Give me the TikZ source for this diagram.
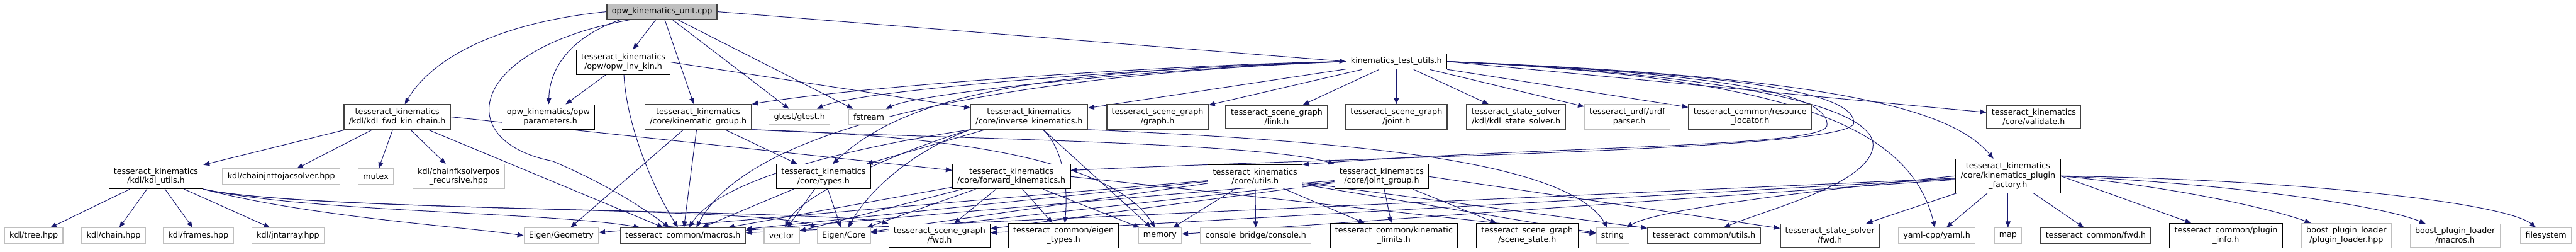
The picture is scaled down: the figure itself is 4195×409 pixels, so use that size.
\documentclass[tikz,border=0pt]{standalone}
\usepackage{fontspec}
\setmainfont{DejaVu Sans}
\usepackage{xcolor}
\usepackage{tikz}
\usetikzlibrary{arrows.meta,positioning,backgrounds}

\definecolor{edgeblue}{HTML}{191970}
\definecolor{extgray}{HTML}{BFBFBF}
\definecolor{bordergray}{HTML}{404040}

\begin{document}
\begin{tikzpicture}[
  x=1pt, y=-1pt,
  font=\fontsize{13}{15}\selectfont,
  every node/.style={align=center},
  arr/.style={-{Triangle[length=10pt,width=8pt]}, draw=edgeblue, line width=1pt},
  filebox/.style={rectangle, draw=black, line width=1pt, fill=white, inner xsep=8pt, inner ysep=6pt, minimum height=25pt},
  darkbox/.style={filebox, draw=bordergray, line width=1.5pt},
  extbox/.style={filebox, draw=extgray, line width=1.2pt},
  rootbox/.style={filebox, draw=bordergray, line width=1.5pt, fill=extgray}
]

  \useasboundingbox (0,0) rectangle (4195,409);

  % Top file and test helper
  \node[rootbox] (root) at (1078,19) {opw\_kinematics\_unit.cpp};
  \node[filebox] (optinv) at (1015,101) {tesseract\_kinematics\\/opw/opw\_inv\_kin.h};
  \node[filebox] (testutils) at (2274,100) {kinematics\_test\_utils.h};

  % Third row
  \node[darkbox] (kdlfwd) at (647,190) {tesseract\_kinematics\\/kdl/kdl\_fwd\_kin\_chain.h};
  \node[filebox] (opwparam) at (893,190) {opw\_kinematics/opw\\\_parameters.h};
  \node[darkbox] (kingroup) at (1137,190) {tesseract\_kinematics\\/core/kinematic\_group.h};
  \node[extbox] (gtest) at (1302,190) {gtest/gtest.h};
  \node[extbox] (fstream) at (1415,190) {fstream};
  \node[darkbox] (invkin) at (1676,190) {tesseract\_kinematics\\/core/inverse\_kinematics.h};
  \node[darkbox] (sggraph) at (1885,190) {tesseract\_scene\_graph\\/graph.h};
  \node[darkbox] (sglink) at (2079,190) {tesseract\_scene\_graph\\/link.h};
  \node[darkbox] (sgjoint) at (2274,190) {tesseract\_scene\_graph\\/joint.h};
  \node[darkbox] (kdlsolver) at (2469,190) {tesseract\_state\_solver\\/kdl/kdl\_state\_solver.h};
  \node[extbox] (urdf) at (2650,190) {tesseract\_urdf/urdf\\\_parser.h};
  \node[darkbox] (resloc) at (2850,190) {tesseract\_common/resource\\\_locator.h};
  \node[darkbox] (validate) at (3312,190) {tesseract\_kinematics\\/core/validate.h};

  % Fourth row
  \node[filebox] (kdlutils) at (254,287) {tesseract\_kinematics\\/kdl/kdl\_utils.h};
  \node[extbox] (chainjnt) at (458,287) {kdl/chainjnttojacsolver.hpp};
  \node[extbox] (mutex) at (612,287) {mutex};
  \node[extbox] (chainfk) at (747,287) {kdl/chainfksolverpos\\\_recursive.hpp};
  \node[filebox] (types) at (1341,287) {tesseract\_kinematics\\/core/types.h};
  \node[filebox] (fwdkin) at (1647,287) {tesseract\_kinematics\\/core/forward\_kinematics.h};
  \node[filebox] (coreutils) at (2044,287) {tesseract\_kinematics\\/core/utils.h};
  \node[filebox] (jointgroup) at (2250,287) {tesseract\_kinematics\\/core/joint\_group.h};
  \node[filebox] (factory) at (3270,286) {tesseract\_kinematics\\/core/kinematics\_plugin\\\_factory.h};

  % Bottom row
  \node[extbox] (tree) at (55,383) {kdl/tree.hpp};
  \node[extbox] (chain) at (185,383) {kdl/chain.hpp};
  \node[extbox] (frames) at (323,383) {kdl/frames.hpp};
  \node[extbox] (jntarray) at (469,383) {kdl/jntarray.hpp};
  \node[extbox] (eigengeom) at (914,383) {Eigen/Geometry};
  \node[darkbox] (macros) at (1112,383) {tesseract\_common/macros.h};
  \node[extbox] (vector) at (1273,383) {vector};
  \node[extbox] (eigencore) at (1374,383) {Eigen/Core};
  \node[filebox] (sgfwd) at (1530,383) {tesseract\_scene\_graph\\/fwd.h};
  \node[filebox] (eigentypes) at (1732,383) {tesseract\_common/eigen\\\_types.h};
  \node[extbox] (memory) at (1889,383) {memory};
  \node[extbox] (console) at (2045,383) {console\_bridge/console.h};
  \node[filebox] (kinlimits) at (2270,383) {tesseract\_common/kinematic\\\_limits.h};
  \node[filebox] (scenestate) at (2487,383) {tesseract\_scene\_graph\\/scene\_state.h};
  \node[extbox] (string) at (2626,383) {string};
  \node[darkbox] (commonutils) at (2775,383) {tesseract\_common/utils.h};
  \node[darkbox] (ssfwd) at (2980,383) {tesseract\_state\_solver\\/fwd.h};
  \node[extbox] (yaml) at (3154,383) {yaml-cpp/yaml.h};
  \node[extbox] (map) at (3270,383) {map};
  \node[darkbox] (commonfwd) at (3413,383) {tesseract\_common/fwd.h};
  \node[filebox] (plugininfo) at (3625,383) {tesseract\_common/plugin\\\_info.h};
  \node[extbox] (pluginloader) at (3821,383) {boost\_plugin\_loader\\/plugin\_loader.hpp};
  \node[extbox] (boostmacros) at (3998,383) {boost\_plugin\_loader\\/macros.h};
  \node[extbox] (filesystem) at (4146,383) {filesystem};

  \begin{scope}[on background layer]
  \fill[white] (0,0) rectangle (4195,409);

  % Includes of opw_kinematics_unit.cpp
  \draw[arr] (root.west) .. controls (800,38) and (700,100) .. (kdlfwd);
  \draw[arr] ([xshift=-52pt]root.south) .. controls (760,80) and (735,230) .. (900,262) .. controls (990,300) and (1050,340) .. ([xshift=-22pt]macros.north);
  \draw[arr] ([xshift=-68pt]root.south) .. controls (930,60) and (895,110) .. (opwparam);
  \draw[arr] (root) -- (optinv);
  \draw[arr] (root) -- (kingroup);
  \draw[arr] (root) -- (gtest);
  \draw[arr] (root) -- (fstream);
  \draw[arr] (root.east) -- (testutils.west);

  % opw_inv_kin.h
  \draw[arr] (optinv) -- (opwparam);
  \draw[arr] (optinv) .. controls (1020,200) and (1060,300) .. ([xshift=-8pt]macros.north);
  \draw[arr] (optinv.east) -- (invkin);

  % kdl_fwd_kin_chain.h
  \draw[arr] (kdlfwd) -- (kdlutils);
  \draw[arr] (kdlfwd) -- (chainjnt);
  \draw[arr] (kdlfwd) -- (mutex);
  \draw[arr] (kdlfwd) -- (chainfk);
  \draw[arr] (kdlfwd) -- (macros);
  \draw[arr] (kdlfwd.east) -- (fwdkin);

  % kdl_utils.h
  \draw[arr] (kdlutils) -- (tree);
  \draw[arr] (kdlutils) -- (chain);
  \draw[arr] (kdlutils) -- (frames);
  \draw[arr] (kdlutils) -- (jntarray);
  \draw[arr] (kdlutils.south east) .. controls (500,352) and (750,368) .. (eigengeom.west);
  \draw[arr] (kdlutils.south east) .. controls (500,345) and (900,345) .. ([xshift=-70pt]macros.north);
  \draw[arr] (kdlutils.south east) .. controls (500,345) and (1250,335) .. (eigencore.north west);
  \draw[arr] (kdlutils.south east) .. controls (500,345) and (1350,340) .. (sgfwd.north west);

  % kinematic_group.h
  \draw[arr] (kingroup) -- (eigengeom);
  \draw[arr] (kingroup) -- (macros);
  \draw[arr] (kingroup) -- (types);
  \draw[arr] (kingroup.south east) .. controls (1500,225) and (2050,230) .. (jointgroup.north west);
  \draw[arr] (kingroup.south east) .. controls (1450,218) and (1800,240) .. (memory);

  % inverse_kinematics.h
  \draw[arr] (invkin) -- (types);
  \draw[arr] (invkin.south west) .. controls (1500,240) and (1420,300) .. (eigencore);
  \draw[arr] (invkin.south west) .. controls (1450,230) and (1180,280) .. ([xshift=10pt]macros.north);
  \draw[arr] (invkin) .. controls (1730,240) and (1740,300) .. (eigentypes);
  \draw[arr] (invkin) -- (memory);
  \draw[arr] (invkin.south east) .. controls (2200,230) and (2550,260) .. (string);
  \draw[arr] (invkin.south west) .. controls (1450,250) and (1300,320) .. (vector);

  % forward_kinematics.h
  \draw[arr] (fwdkin) -- (eigencore);
  \draw[arr] (fwdkin) -- (macros);
  \draw[arr] (fwdkin) -- (sgfwd);
  \draw[arr] (fwdkin) -- (eigentypes);
  \draw[arr] (fwdkin) -- (memory);
  \draw[arr] (fwdkin.east) -- (string);
  \draw[arr] (fwdkin) -- (vector);

  % types.h
  \draw[arr] (types) -- (macros);
  \draw[arr] (types) -- (vector);
  \draw[arr] (types) -- (eigencore);

  % core/utils.h
  \draw[arr] (coreutils) -- (console);
  \draw[arr] (coreutils) -- (kinlimits);
  \draw[arr] (coreutils) -- (macros);
  \draw[arr] (coreutils) -- (eigencore);
  \draw[arr] (coreutils) -- (memory);
  \draw[arr] (coreutils) -- (string);
  \draw[arr] (coreutils) -- (commonutils);
  \draw[arr] (coreutils) -- (eigengeom);

  % joint_group.h
  \draw[arr] (jointgroup) -- (kinlimits);
  \draw[arr] (jointgroup) -- (scenestate);
  \draw[arr] (jointgroup) -- (macros);
  \draw[arr] (jointgroup) -- (eigencore);
  \draw[arr] (jointgroup) -- (sgfwd);
  \draw[arr] (jointgroup.east) -- (ssfwd);

  % kinematics_plugin_factory.h
  \draw[arr] (factory) -- (ssfwd);
  \draw[arr] (factory) -- (yaml);
  \draw[arr] (factory) -- (map);
  \draw[arr] (factory) -- (commonfwd);
  \draw[arr] (factory.east) -- (plugininfo);
  \draw[arr] (factory.east) .. controls (3550,305) and (3700,340) .. (pluginloader);
  \draw[arr] (factory.east) .. controls (3650,300) and (3880,335) .. (boostmacros);
  \draw[arr] (factory.east) .. controls (3750,292) and (4080,330) .. (filesystem);
  \draw[arr] (factory) -- (macros);
  \draw[arr] (factory) -- (sgfwd);
  \draw[arr] (factory) -- (memory);
  \draw[arr] (factory.west) .. controls (2950,310) and (2700,340) .. (string);

  % kinematics_test_utils.h
  \draw[arr] (testutils.west) .. controls (1900,105) and (1400,140) .. (kingroup.north east);
  \draw[arr] (testutils.west) .. controls (1900,108) and (1400,145) .. (gtest);
  \draw[arr] (testutils.west) .. controls (1900,110) and (1500,150) .. (fstream);
  \draw[arr] (testutils.west) .. controls (1700,115) and (1480,150) .. ([xshift=15pt]types.north);
  \draw[arr] (testutils.west) .. controls (1700,120) and (1230,190) .. ([xshift=22pt]macros.north);
  \draw[arr] (testutils) -- (invkin);
  \draw[arr] (testutils) -- (sggraph);
  \draw[arr] (testutils) -- (sglink);
  \draw[arr] (testutils) -- (sgjoint);
  \draw[arr] (testutils) -- (kdlsolver);
  \draw[arr] (testutils) -- (urdf);
  \draw[arr] (testutils) -- (resloc);
  \draw[arr] (testutils.east) -- (validate);
  \draw[arr] (testutils.east) .. controls (2700,115) and (2985,140) .. (2975,205) .. controls (2965,240) and (2500,238) .. (coreutils.north east);
  \draw[arr] (testutils.east) .. controls (2750,118) and (3020,140) .. (3019,200) .. controls (3015,245) and (2200,255) .. ([yshift=10pt]fwdkin.east);
  \draw[arr] (testutils.east) .. controls (2800,120) and (3060,170) .. (3050,240) .. controls (3040,300) and (2880,340) .. (commonutils);
  \draw[arr] (testutils.east) .. controls (2900,125) and (3110,200) .. (yaml);
  \draw[arr] (testutils.east) .. controls (3000,125) and (3180,180) .. (factory);
  \end{scope}

\end{tikzpicture}
\end{document}
